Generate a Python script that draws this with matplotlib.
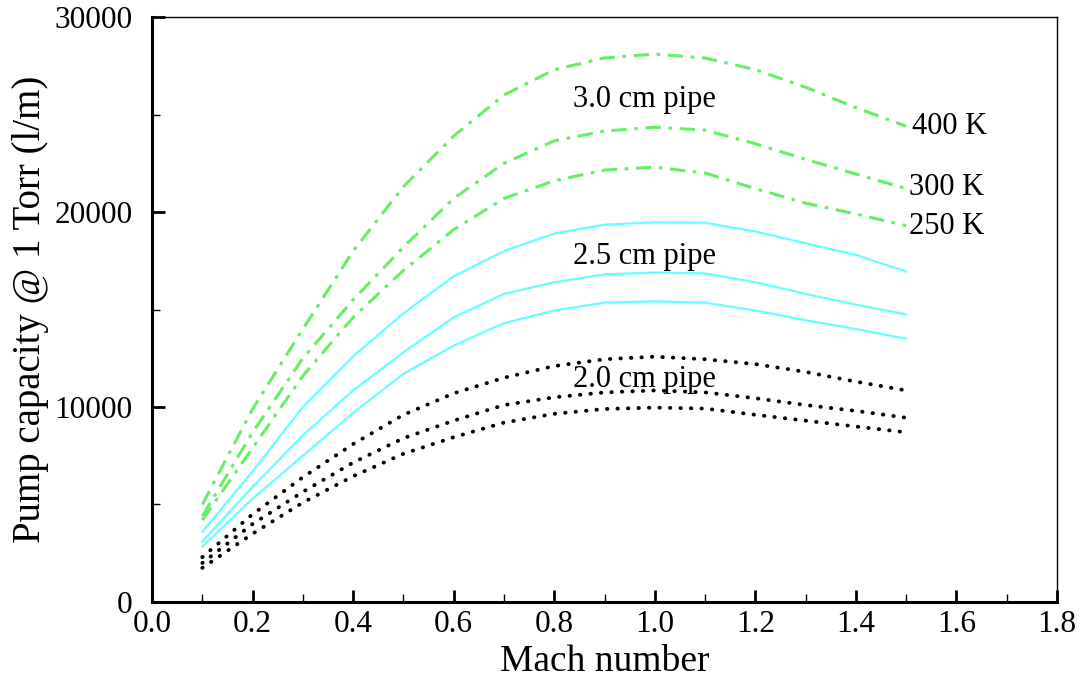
import matplotlib
matplotlib.use("Agg")
import matplotlib.pyplot as plt
from matplotlib.ticker import MultipleLocator

plt.rcParams['font.family'] = ['Liberation Serif', 'DejaVu Serif']

mach = [0.1, 0.2, 0.3, 0.4, 0.5, 0.6, 0.7, 0.8, 0.9, 1.0, 1.1, 1.2, 1.3, 1.4, 1.5]

# 3.0 cm pipe
pipe30_400 = [5000, 9900, 14000, 18000, 21300, 23900, 26000, 27300, 27900, 28100, 27900, 27300, 26400, 25350, 24400]
pipe30_300 = [4400, 8700, 12500, 15500, 18200, 20700, 22500, 23650, 24150, 24350, 24200, 23500, 22700, 21950, 21200]
pipe30_250 = [4200, 7900, 11600, 14600, 17000, 19100, 20700, 21600, 22150, 22300, 22000, 21200, 20450, 19900, 19300]

# 2.5 cm pipe
pipe25_400 = [3600, 6700, 10000, 12600, 14800, 16700, 18000, 18900, 19350, 19470, 19450, 19000, 18400, 17800, 16950]
pipe25_300 = [3100, 5900, 8550, 10850, 12800, 14600, 15800, 16400, 16800, 16900, 16850, 16400, 15800, 15250, 14750]
pipe25_250 = [2850, 5300, 7500, 9700, 11700, 13150, 14300, 14950, 15350, 15420, 15350, 14950, 14450, 14000, 13500]

# 2.0 cm pipe
pipe20_400 = [2300, 4500, 6400, 8100, 9600, 10700, 11500, 12100, 12450, 12580, 12450, 12200, 11800, 11300, 10850]
pipe20_300 = [2000, 4000, 5650, 7150, 8400, 9300, 10100, 10500, 10750, 10850, 10750, 10450, 10100, 9800, 9450]
pipe20_250 = [1750, 3500, 5100, 6450, 7600, 8450, 9200, 9650, 9900, 9970, 9920, 9600, 9300, 9000, 8700]

green = '#66ee66'
cyan = '#66ffff'

fig = plt.figure(figsize=(10.83, 6.84), dpi=100)
ax = fig.add_axes([0.1404, 0.1199, 0.8356, 0.8552])

for ys in (pipe30_400, pipe30_300, pipe30_250):
    ax.plot(mach, ys, color=green, lw=2.2, linestyle=(0, (5, 2.5, 1.2, 2.5)))
for ys in (pipe25_400, pipe25_300, pipe25_250):
    ax.plot(mach, ys, color=cyan, lw=1.6, linestyle='-')
for ys in (pipe20_400, pipe20_300, pipe20_250):
    ax.plot(mach, ys, color='black', lw=2.8, linestyle=(0, (0.1, 2.6)),
            dash_capstyle='round')

ax.text(0.837, 25750, "3.0 cm pipe", fontsize=22, va='center', ha='left')
ax.text(0.837, 17720, "2.5 cm pipe", fontsize=22, va='center', ha='left')
ax.text(0.837, 11400, "2.0 cm pipe", fontsize=22, va='center', ha='left')
ax.text(1.512, 24400, "400 K", fontsize=22, va='center', ha='left')
ax.text(1.505, 21270, "300 K", fontsize=22, va='center', ha='left')
ax.text(1.505, 19260, "250 K", fontsize=22, va='center', ha='left')

ax.set_xlim(0, 1.8)
ax.set_ylim(0, 30000)
ax.xaxis.set_major_locator(MultipleLocator(0.2))
ax.xaxis.set_minor_locator(MultipleLocator(0.1))
ax.yaxis.set_major_locator(MultipleLocator(10000))
ax.yaxis.set_minor_locator(MultipleLocator(5000))
ax.xaxis.set_major_formatter(plt.FormatStrFormatter('%.1f'))

ax.tick_params(which='both', direction='in', top=False, right=False, labelsize=22.5)
ax.tick_params(which='major', length=9, width=2)
ax.tick_params(which='minor', length=6, width=1)
ax.tick_params(axis='x', which='major', pad=6)
ax.tick_params(axis='y', which='major', pad=14)

ax.spines['left'].set_linewidth(2.2)
ax.spines['bottom'].set_linewidth(2.2)
ax.spines['top'].set_linewidth(1.0)
ax.spines['right'].set_linewidth(1.0)

ax.set_xlabel("Mach number", fontsize=27, labelpad=4)
ax.set_ylabel("Pump capacity @ 1 Torr (l/m)", fontsize=28, labelpad=4)

fig.savefig("out.png", dpi=100)
